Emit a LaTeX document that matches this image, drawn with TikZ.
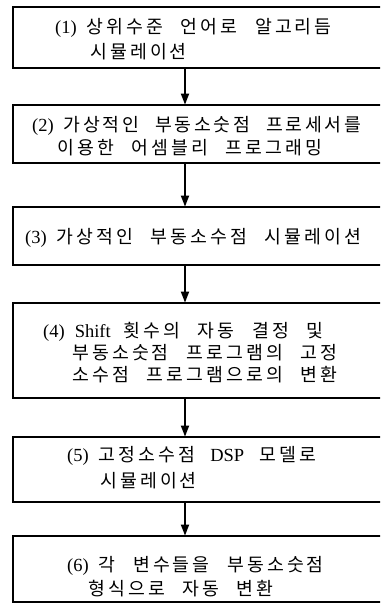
\documentclass[tikz,border=0pt]{standalone}
\usepackage{fontspec}
\setmainfont{Liberation Serif}
\newfontfamily\krfont{Noto Sans CJK KR}
\usetikzlibrary{arrows.meta}
% letter-spaced Korean: \kl{words separated by spaces}
\newdimen\kskern \kskern=3.1pt
\newdimen\kwspace \kwspace=17.5pt
\newcommand\ksEnd{\relax}
\def\ks#1{\ksA#1\ksEnd}
\def\ksA#1{\ifx#1\ksEnd\else#1\expandafter\ksB\fi}
\def\ksB#1{\ifx#1\ksEnd\else\kern\kskern#1\expandafter\ksB\fi}
\def\kl#1{\klW#1 \klEnd}
\def\klW#1 #2\klEnd{\ks{#1}\ifx\relax#2\relax\else\hspace{\kwspace}\klW#2\klEnd\fi}
\newcommand\lat[1]{{\rmfamily\fontsize{18.5}{18.5}\selectfont #1}}
\newcommand\numlab[1]{\lat{(#1)}\hspace{10pt}}
\tikzset{
  stepbox/.style={draw, line width=1.8pt, rectangle, inner sep=0pt, minimum width=380pt},
  txt/.style={anchor=west, inner sep=0pt, text height=13.7pt, text depth=0pt,
    font={\fontsize{18.3}{18.3}\selectfont\krfont}},
  tight/.style={execute at begin node={\kskern=2.6pt\kwspace=16.5pt}},
  arr/.style={line width=1.8pt, -{Triangle[length=11pt,width=8pt]}, shorten >=-0.5pt},
}
\begin{document}
\begin{tikzpicture}[x=1pt,y=-1pt]
\path[use as bounding box] (0,0) rectangle (380,604);
\clip (0,0) rectangle (380,604);
\coordinate (ax) at (185,0);
% boxes (left edge 13, right edge beyond the picture)
\node[stepbox, minimum height=61pt] (b1) at (203,37.5) {};
\node[stepbox, minimum height=58pt] (b2) at (203,134) {};
\node[stepbox, minimum height=58pt] (b3) at (203,236) {};
\node[stepbox, minimum height=95pt] (b4) at (203,350.5) {};
\node[stepbox, minimum height=65pt] (b5) at (203,469.5) {};
\node[stepbox, minimum height=66pt] (b6) at (203,569) {};
% texts
\node[txt] (t1a) at (55,27) {\numlab{1}\kl{상위수준 언어로 알고리듬}};
\node[txt] (t1b) at (90,52) {\kl{시뮬레이션}};
\node[txt, tight] (t2a) at (32,125) {\numlab{2}\kl{가상적인 부동소숫점 프로세서를}};
\node[txt] (t2b) at (57,148) {\kl{이용한 어셈블리 프로그래밍}};
\node[txt] (t3a) at (25,237) {\numlab{3}\kl{가상적인 부동소수점 시뮬레이션}};
\node[txt] (t4a) at (43,331) {\numlab{4}\lat{Shift}\hspace{13pt}\kl{횟수의 자동 결정 및}};
\node[txt] (t4b) at (72,353) {\kl{부동소숫점 프로그램의 고정}};
\node[txt] (t4c) at (72,375) {\kl{소수점 프로그램으로의 변환}};
\node[txt] (t5a) at (67,455) {\numlab{5}\kl{고정소수점}\hspace{15pt}\lat{DSP}\hspace{15pt}\kl{모델로}};
\node[txt] (t5b) at (100,481) {\kl{시뮬레이션}};
\node[txt] (t6a) at (67,565) {\numlab{6}\kl{각 변수들을 부동소숫점}};
\node[txt] (t6b) at (88,589) {\kl{형식으로 자동 변환}};
% connectors
\draw[arr] (b1.south -| ax) -- (b2.north -| ax);
\draw[arr] (b2.south -| ax) -- (b3.north -| ax);
\draw[arr] (b3.south -| ax) -- (b4.north -| ax);
\draw[arr] (b4.south -| ax) -- (b5.north -| ax);
\draw[arr] (b5.south -| ax) -- (b6.north -| ax);
\end{tikzpicture}
\end{document}
